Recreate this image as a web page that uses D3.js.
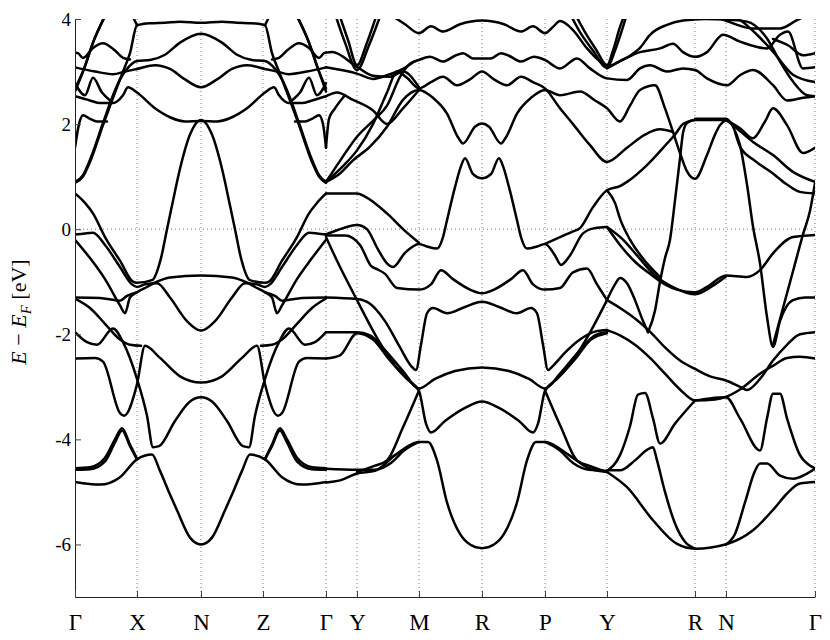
<!DOCTYPE html>
<html>
<head>
<meta charset="utf-8">
<script src="https://cdn.jsdelivr.net/npm/d3@7"></script>
<style>
  body { margin: 0; background: #fff; }
  svg text { font-family: "Liberation Serif", "Times New Roman", serif; fill: #000; }
</style>
</head>
<body>
<div id="chart"></div>
<script>
// high-symmetry points along the k-path (path length, arbitrary units)
var kLabels = ["Γ", "X", "N", "Z", "Γ", "Y", "M", "R", "P", "Y", "R", "N", "Γ"];
var kPos    = [0, 62, 126, 188, 251, 282, 344, 407, 470, 532, 620, 651, 740];
var eTicks  = [-6, -4, -2, 0, 2, 4];

// bands as [k, E(eV)], one array per visible stroke
// --- Γ-X-N-Z-Γ ---
var gxA  = [[0,-4.81],[25,-4.86],[45,-4.72],[62,-4.38],[77,-4.29],[85,-4.6],[95,-5.05],[102,-5.35],[115,-5.87],[126,-6.0],[137,-5.87],[150,-5.35],[157,-5.05],[167,-4.6],[175,-4.29],[190,-4.38],[207,-4.72],[227,-4.86],[251,-4.81]];
var gxB1 = [[0,-4.55],[15,-4.53],[30,-4.35],[40,-4.0],[47,-3.79],[55,-4.1],[62,-4.37]];
var zgB1 = [[190,-4.37],[197,-4.1],[205,-3.79],[212,-4.0],[222,-4.35],[237,-4.53],[251,-4.55]];
var gxB2 = [[0,-4.58],[15,-4.57],[30,-4.42],[40,-4.06],[47,-3.83],[55,-4.13],[62,-4.38]];
var zgB2 = [[190,-4.38],[197,-4.13],[205,-3.83],[212,-4.06],[222,-4.42],[237,-4.57],[251,-4.58]];
var gxC5 = [[0,-1.96],[12,-2.15],[22,-2.2],[38,-1.89],[48,-2.15],[62,-2.85],[72,-3.55],[78,-4.15],[84,-4.13],[100,-3.65],[115,-3.28],[126,-3.2],[137,-3.28],[152,-3.65],[168,-4.13],[174,-4.15],[180,-3.55],[190,-2.85],[204,-2.15],[214,-1.89],[230,-2.2],[240,-2.15],[251,-1.96]];
var gxC6 = [[0,-2.46],[20,-2.45],[28,-2.52],[45,-3.5],[49,-3.55],[62,-2.95],[70,-2.22],[85,-2.45],[105,-2.8],[126,-2.92],[147,-2.8],[167,-2.45],[182,-2.22],[190,-2.95],[203,-3.55],[207,-3.5],[224,-2.52],[232,-2.45],[251,-2.46]];
var gxC1 = [[0,0.68],[10,0.5],[18,0.3],[30,-0.15],[45,-0.6],[58,-1.0],[62,-1.02],[77,-0.97],[86,-0.55],[92,0.0],[97,0.45],[105,1.15],[115,1.8],[126,2.08],[137,1.8],[147,1.15],[155,0.45],[160,0.0],[166,-0.55],[175,-0.97],[190,-1.02],[194,-1.0],[207,-0.6],[222,-0.15],[234,0.3],[242,0.5],[251,0.68]];
var gxC2 = [[0,-0.1],[10,-0.08],[18,-0.07],[30,-0.3],[45,-0.72],[57,-1.05],[62,-1.1],[70,-1.05],[82,-1.03],[95,-1.3],[112,-1.75],[126,-1.93],[140,-1.75],[157,-1.3],[170,-1.03],[182,-1.05],[190,-1.1],[195,-1.05],[207,-0.72],[222,-0.3],[234,-0.07],[242,-0.08],[251,-0.1]];
var gxC3 = [[0,-0.2],[15,-0.55],[30,-0.95],[45,-1.45],[50,-1.6],[55,-1.3],[62,-1.2],[72,-1.1],[82,-1.0],[95,-0.92],[126,-0.88],[157,-0.92],[170,-1.0],[180,-1.1],[190,-1.2],[197,-1.3],[202,-1.6],[207,-1.45],[222,-0.95],[237,-0.55],[251,-0.2]];
var gxC4 = [[0,-1.3],[25,-1.31],[45,-1.36],[52,-1.27],[62,-1.2]];
var zgC4 = [[190,-1.2],[200,-1.27],[207,-1.36],[227,-1.31],[251,-1.3]];
var gxC4b = [[0,-1.32],[15,-1.5],[30,-1.8],[45,-2.1],[55,-2.2],[66,-2.22]];
var zgC4b = [[186,-2.22],[197,-2.2],[207,-2.1],[222,-1.8],[237,-1.5],[251,-1.32]];
var gxG1 = [[0,0.88],[8,1.0],[15,1.28],[28,1.98],[38,2.5],[48,3.0],[55,3.35],[62,3.88],[75,3.92],[90,3.93],[105,3.95],[126,3.93],[147,3.95],[162,3.93],[177,3.92],[190,3.88],[197,3.35],[204,3.0],[214,2.5],[224,1.98],[237,1.28],[244,1.0],[251,0.88]];
var gxG2 = [[0,0.9],[8,1.03],[15,1.32],[28,2.02],[38,2.55],[45,2.85],[52,3.05],[62,3.2],[75,3.22],[90,3.32],[105,3.55],[126,3.72],[147,3.55],[162,3.32],[177,3.22],[190,3.2],[200,3.05],[207,2.85],[214,2.55],[224,2.02],[237,1.32],[244,1.03],[251,0.9]];
var gxG3 = [[0,3.08],[20,3.0],[38,2.95],[50,3.0],[62,3.05],[80,3.12],[95,3.05],[110,2.85],[126,2.7],[142,2.85],[157,3.05],[172,3.12],[190,3.05],[202,3.0],[214,2.95],[232,3.0],[251,3.08]];
var gxG4 = [[0,2.53],[15,2.45],[25,2.4],[38,2.4],[48,2.55],[53,2.7],[62,2.6],[80,2.3],[95,2.13],[110,2.05],[126,2.06],[142,2.05],[157,2.13],[172,2.3],[190,2.6],[199,2.7],[204,2.55],[214,2.4],[227,2.4],[237,2.45],[251,2.53]];
var gxG5 = [[0,1.55],[4,2.0],[8,2.17],[15,2.1],[22,2.05],[32,2.05]];
var zgG5 = [[220,2.05],[230,2.05],[237,2.1],[244,2.17],[248,2.0],[251,1.55]];
var gxG6 = [[0,3.36],[3,3.35],[8,3.26],[18,3.45],[28,3.54],[40,3.4],[48,3.26],[55,3.23]];
var zgG6 = [[197,3.23],[204,3.26],[212,3.4],[224,3.54],[234,3.45],[244,3.26],[249,3.35],[251,3.36]];
var gxG7 = [[0,2.78],[10,2.55],[18,2.88],[27,2.6],[35,2.45]];
var zgG7 = [[217,2.45],[225,2.6],[234,2.88],[242,2.55],[251,2.78]];
var gxG8a = [[0,2.62],[8,3.0],[18,3.55],[30,4.05]];
var zgG8a = [[222,4.05],[234,3.55],[244,3.0],[251,2.62]];
var gxG8b = [[0,2.68],[9,3.05],[19,3.6],[31,4.1]];
var zgG8b = [[221,4.1],[233,3.6],[243,3.05],[251,2.68]];
var gxG9 = [[54,4.2],[62,3.88]];
var zgG9 = [[190,3.88],[198,4.2]];

// --- Γ-Y-M-R-P-Y ---
var ymD1 = [[251,-0.1],[262,-0.02],[282,0.08],[292,0.0],[302,-0.35],[312,-0.65],[318,-0.72],[330,-0.45],[344,-0.28],[352,-0.33],[362,-0.37],[368,-0.15],[372,0.17],[380,0.8],[386,1.2],[390,1.35],[398,1.05],[407,0.97],[416,1.05],[424,1.35],[428,1.2],[434,0.8],[442,0.17],[446,-0.15],[452,-0.37],[462,-0.33],[470,-0.28],[480,-0.5],[486,-0.68],[495,-0.5],[508,-0.08],[520,0.02],[532,0.04]];
var ymN5 = [[251,-0.12],[270,-0.12],[285,-0.3],[296,-0.7],[302,-0.76],[310,-0.85],[322,-1.12],[344,-1.15],[356,-1.05],[366,-0.78],[378,-0.95],[395,-1.15],[407,-1.22],[419,-1.15],[436,-0.95],[448,-0.78],[458,-1.05],[470,-1.15],[485,-1.12],[498,-0.82],[512,-0.75],[522,-1.05],[532,-1.35]];
var pyY7 = [[470,-0.28],[485,-0.15],[497,-0.05],[505,0.02],[518,0.42],[532,0.74],[545,0.82],[552,0.9],[572,1.22],[592,1.63],[600,1.8],[608,2.0],[620,2.08]];
var ymN1 = [[251,-1.3],[282,-1.33],[295,-1.42],[310,-1.75],[325,-2.25],[336,-2.6],[341,-2.68],[346,-2.2],[352,-1.6],[358,-1.5],[372,-1.6],[390,-1.48],[407,-1.38],[424,-1.48],[442,-1.6],[456,-1.5],[462,-1.6],[468,-2.2],[473,-2.68],[478,-2.6],[490,-2.35],[505,-2.1],[520,-1.95],[532,-1.92]];
var ymN2 = [[251,-1.96],[282,-1.96],[295,-2.02],[310,-2.3],[328,-2.7],[344,-3.03],[360,-2.85],[380,-2.7],[407,-2.63],[434,-2.7],[454,-2.85],[470,-3.03],[485,-2.75],[505,-2.3],[520,-2.02],[532,-1.96]];
var ymN3 = [[251,-2.46],[265,-2.4],[282,-1.98],[298,-2.1],[315,-2.5],[332,-2.85],[344,-3.08],[351,-3.7],[356,-3.87],[370,-3.65],[390,-3.4],[407,-3.28],[424,-3.4],[444,-3.65],[458,-3.87],[463,-3.7],[470,-3.08],[482,-2.85],[499,-2.5],[516,-2.1],[532,-1.98]];
var gmN4 = [[251,-0.15],[262,-0.6],[282,-1.35],[300,-2.0],[320,-2.6],[344,-3.05]];
var pyN4 = [[470,-3.05],[494,-2.6],[514,-2.0],[532,-1.35]];
var ymM1 = [[251,-4.82],[265,-4.78],[282,-4.65],[300,-4.6],[320,-4.3],[338,-4.08],[344,-4.05],[353,-4.05],[362,-4.4],[372,-5.2],[385,-5.8],[395,-6.0],[407,-6.07],[419,-6.0],[429,-5.8],[442,-5.2],[452,-4.4],[461,-4.05],[470,-4.05],[476,-4.08],[494,-4.3],[514,-4.55],[532,-4.62]];
var gmM2 = [[251,-4.56],[282,-4.58],[300,-4.58],[316,-4.45],[330,-4.2],[344,-4.05]];
var pyM2 = [[470,-4.05],[484,-4.2],[498,-4.45],[514,-4.58],[532,-4.6]];
var gmM3 = [[282,-4.62],[300,-4.5],[312,-4.4],[328,-3.77],[344,-3.07]];
var pyM3 = [[470,-3.07],[486,-3.77],[502,-4.4],[514,-4.5],[532,-4.62]];
var gmH1 = [[251,0.68],[282,0.68],[290,0.62],[312,0.3],[328,0.0],[344,-0.26]];
var ymG1 = [[251,0.9],[265,1.06],[278,1.31],[295,1.57],[312,1.95],[328,2.46],[344,2.65],[358,2.5],[372,2.2],[383,1.75],[388,1.63],[400,1.95],[407,2.01],[414,1.95],[426,1.63],[431,1.75],[442,2.2],[456,2.5],[470,2.65],[485,2.55],[505,2.62],[520,2.45],[532,2.3],[545,2.05],[555,2.35],[565,2.65],[580,2.74],[590,2.3],[598,1.85],[605,1.45],[612,1.1],[620,0.96],[632,1.41],[640,1.8],[645,1.98],[651,2.08]];
var ymG2 = [[251,0.9],[268,1.2],[282,1.5],[298,2.0],[312,2.6],[322,3.0],[332,2.88],[344,2.68],[356,2.8],[368,2.9],[382,2.74],[395,2.85],[407,3.0],[419,2.85],[432,2.74],[446,2.9],[458,2.8],[470,2.68],[485,2.3],[498,2.0],[515,1.6],[532,1.28],[552,1.55],[570,1.8],[585,1.9],[598,1.85]];
var ymG3 = [[251,0.9],[265,1.3],[282,1.76],[300,2.1],[312,2.35],[325,2.9],[335,3.15],[344,3.22],[355,3.28],[368,3.19],[380,3.3],[388,3.35],[398,3.25],[407,3.25],[416,3.25],[426,3.35],[434,3.3],[446,3.19],[459,3.28],[470,3.22],[485,3.06],[502,3.25],[515,3.06],[532,2.87],[552,2.84],[565,3.06],[575,3.12],[592,3.0],[608,3.06],[620,3.03],[632,2.87],[652,2.74],[665,2.93],[678,3.03],[698,2.74],[712,2.45],[728,2.5],[740,2.53]];
var ymT2 = [[318,4.05],[330,3.9],[344,3.73],[356,3.86],[368,3.76],[385,3.9],[407,3.97],[429,3.9],[446,3.76],[458,3.86],[470,3.73],[478,3.85],[485,3.96],[498,3.79],[512,3.44],[525,3.19],[532,3.09],[545,3.2],[565,3.37],[585,3.44],[598,3.53],[608,3.37],[620,3.28],[632,3.37],[648,3.7],[665,3.57],[692,3.44],[705,3.7],[713,3.76],[728,3.06],[740,3.08]];
var gyV1 = [[260,4.1],[270,3.55],[282,3.03],[294,3.5],[306,4.1]];
var gyV2 = [[264,4.1],[273,3.6],[282,3.12],[292,3.55],[302,4.1]];
var gmU5 = [[251,3.36],[257,3.37],[282,3.09],[298,2.92],[315,2.9],[328,3.0],[344,2.7]];
var gmU6 = [[251,3.08],[282,2.96],[298,2.86],[315,2.95],[328,3.05],[340,3.2]];
var gmU7 = [[251,2.53],[262,2.6],[278,2.46],[298,2.26],[312,2.0],[328,2.3],[344,2.65]];
var gySpike = [[251,1.55],[254,2.1],[260,2.3],[270,2.55]];

// --- Y-R-N-Γ ---
var yrV3 = [[495,4.1],[505,3.75],[518,3.4],[532,3.07],[540,3.4],[548,3.85],[552,4.1]];
var yrV4 = [[500,4.1],[510,3.75],[521,3.42],[532,3.12],[538,3.4],[545,3.85],[550,4.1]];
var yrW1 = [[532,3.06],[545,3.2],[555,3.3],[565,3.45],[575,3.7],[592,3.89],[608,3.97],[630,4.0],[651,3.99],[672,3.95],[692,3.63],[705,3.19],[718,2.81],[732,2.55],[740,2.53]];
var ngW4 = [[640,4.05],[652,3.96],[678,3.82],[705,3.82],[722,3.98],[730,4.05]];
var ngW5 = [[658,4.05],[665,3.98],[682,3.7],[698,3.38],[718,2.94],[740,2.8]];
var ngW6 = [[698,3.62],[713,3.5],[728,3.31],[740,3.35]];
var yrB3a = [[532,0.04],[545,-0.3],[560,-0.62],[575,-0.85],[590,-1.05],[602,-1.15],[620,-1.2],[632,-1.1],[651,-0.88],[672,-0.91],[685,-0.78],[698,-0.46],[718,-0.15],[740,-0.11]];
var yrB3b = [[532,0.04],[548,-0.2],[562,-0.5],[580,-0.88],[600,-1.12],[620,-1.24],[640,-1.05],[651,-0.9]];
var yrYR  = [[532,0.74],[540,0.5],[545,0.2],[555,-0.2],[572,-0.65],[585,-0.91]];
var rnL   = [[573,-1.96],[580,-1.55],[585,-1.0],[590,-0.55],[595,-0.2],[600,0.55],[605,1.35],[608,1.83],[612,2.02],[620,2.08],[651,2.08]];
var rnR   = [[620,2.1],[651,2.1],[658,1.95],[665,1.6],[672,0.85],[678,0.05],[685,-0.65],[692,-1.67],[698,-2.24],[705,-1.75],[718,-1.35],[730,-1.3],[740,-1.3]];
var ngG1  = [[651,2.08],[665,1.92],[678,1.73],[690,2.05],[698,2.3],[712,1.98],[728,1.45],[740,1.55]];
var ngG2  = [[651,2.08],[658,1.98],[678,1.66],[698,1.41],[718,1.09],[740,0.9]];
var ngG3  = [[660,1.85],[665,1.57],[680,1.3],[698,1.06],[712,0.85],[725,0.71],[740,0.68]];
var ngG4  = [[698,-2.2],[708,-1.5],[718,-0.8],[728,-0.1],[735,0.35],[740,0.88]];
var yrM1  = [[532,-1.92],[545,-2.02],[560,-2.2],[575,-2.45],[590,-2.75],[605,-3.05],[620,-3.26],[640,-3.24],[651,-3.19],[665,-3.05],[685,-2.75],[698,-2.6],[712,-2.45],[725,-2.43],[740,-2.46]];
var yrM2  = [[532,-1.35],[545,-1.5],[560,-1.7],[575,-1.95],[590,-2.25],[605,-2.5],[620,-2.66],[635,-2.8],[651,-2.88],[665,-3.0],[672,-3.06],[685,-2.85],[698,-2.5],[712,-2.2],[725,-2.0],[740,-1.96]];
var yrM3  = [[532,-1.35],[540,-1.05],[545,-0.93],[552,-1.03],[560,-1.35],[567,-1.7],[573,-1.96]];
var yrL1  = [[532,-4.62],[552,-4.91],[578,-5.54],[602,-5.99],[620,-6.08],[652,-5.99],[678,-5.73],[700,-5.3],[712,-5.03],[725,-4.84],[740,-4.81]];
var yrL2  = [[532,-4.59],[545,-4.59],[560,-4.4],[572,-4.2],[578,-4.15],[582,-4.4],[590,-5.0],[600,-5.6],[610,-5.95],[620,-6.08]];
var ngL3  = [[651,-6.0],[660,-5.8],[670,-5.2],[680,-4.6],[685,-4.46],[692,-4.46],[705,-4.69],[718,-4.75],[732,-4.65],[740,-4.56]];
var yrL5  = [[532,-4.6],[545,-4.3],[555,-3.75],[563,-3.15],[570,-3.12],[578,-3.6],[585,-4.08],[600,-3.7],[620,-3.26]];
var rgL6  = [[620,-3.26],[635,-3.22],[651,-3.2],[665,-3.6],[685,-4.21],[692,-3.6],[698,-3.13],[705,-3.13],[712,-3.6],[725,-4.3],[735,-4.5],[740,-4.55]];

var bands = [gxA, gxB1, zgB1, gxB2, zgB2, gxC5, gxC6, gxC1, gxC2, gxC3, gxC4, zgC4, gxC4b, zgC4b,
  gxG1, gxG2, gxG3, gxG4, gxG5, zgG5, gxG6, zgG6, gxG7, zgG7, gxG8a, zgG8a, gxG8b, zgG8b, gxG9, zgG9,
  ymD1, ymN5, pyY7, ymN1, ymN2, ymN3, gmN4, pyN4, ymM1, gmM2, pyM2, gmM3, pyM3, gmH1,
  ymG1, ymG2, ymG3, ymT2, gyV1, gyV2, gmU5, gmU6, gmU7, gySpike,
  yrV3, yrV4, yrW1, ngW4, ngW5, ngW6, yrB3a, yrB3b, yrYR, rnL, rnR, ngG1, ngG2, ngG3, ngG4,
  yrM1, yrM2, yrM3, yrL1, yrL2, ngL3, yrL5, rgL6];

var W = 830, H = 640;
var serif = "'Liberation Serif', 'Times New Roman', serif";
var margin = {top: 19, right: 15, bottom: 43, left: 75},
    width = W - margin.left - margin.right,
    height = H - margin.top - margin.bottom;

var svg = d3.select("#chart").append("svg")
    .attr("width", W)
    .attr("height", H);

var g = svg.append("g")
    .attr("transform", "translate(" + margin.left + "," + margin.top + ")");

var x = d3.scaleLinear().domain([0, 740]).range([0, width]);
var y = d3.scaleLinear().domain([-7, 4]).range([height, 0]);

// dotted guides at the symmetry points and at the Fermi level
g.selectAll(".kgrid")
    .data(kPos.slice(1))
    .enter().append("line")
    .attr("x1", function(d) { return x(d); })
    .attr("x2", function(d) { return x(d); })
    .attr("y1", 0)
    .attr("y2", height)
    .attr("stroke", "#777")
    .attr("stroke-width", 1)
    .attr("stroke-dasharray", "1,3");

g.append("line")
    .attr("x1", 0).attr("x2", width)
    .attr("y1", y(0)).attr("y2", y(0))
    .attr("stroke", "#777")
    .attr("stroke-width", 1)
    .attr("stroke-dasharray", "1,3");

// the bands
g.append("clipPath").attr("id", "clip")
  .append("rect").attr("width", width).attr("height", height);

var line = d3.line()
    .x(function(d) { return x(d[0]); })
    .y(function(d) { return y(d[1]); })
    .curve(d3.curveMonotoneX);

g.append("g").attr("clip-path", "url(#clip)")
  .selectAll("path")
    .data(bands)
    .enter().append("path")
    .attr("d", line)
    .attr("fill", "none")
    .attr("stroke", "#000")
    .attr("stroke-width", 2.5)
    .attr("stroke-linejoin", "round")
    .attr("stroke-linecap", "round");

// axes (ticks point inward, matlab style)
var yAxis = g.append("g")
    .call(d3.axisLeft(y).tickValues(eTicks).tickSize(-6).tickSizeOuter(0).tickPadding(4)
        .tickFormat(function(d) { return d; }));
yAxis.attr("font-family", serif);
yAxis.selectAll("text").attr("font-family", serif).attr("font-size", 19);

var xAxis = g.append("g")
    .attr("transform", "translate(0," + height + ")")
    .call(d3.axisBottom(x).tickValues(kPos).tickSize(-6).tickSizeOuter(0).tickPadding(17)
        .tickFormat(function(d, i) { return kLabels[i]; }));
xAxis.attr("font-family", serif);
xAxis.selectAll("text").attr("font-family", serif).attr("font-size", 23);

svg.selectAll(".domain").attr("stroke", "#222");
svg.selectAll(".tick line").attr("stroke", "#444");

// y label
var ylab = svg.append("text")
    .attr("transform", "translate(26,312) rotate(-90)")
    .attr("text-anchor", "middle")
    .attr("font-family", serif)
    .attr("font-size", 22);
ylab.append("tspan").attr("font-style", "italic").text("E");
ylab.append("tspan").text(" − ");
ylab.append("tspan").attr("font-style", "italic").text("E");
ylab.append("tspan").attr("font-style", "italic").attr("font-size", 15).attr("dy", 5).text("F");
ylab.append("tspan").attr("dy", -5).text(" [eV]");
</script>
</body>
</html>
